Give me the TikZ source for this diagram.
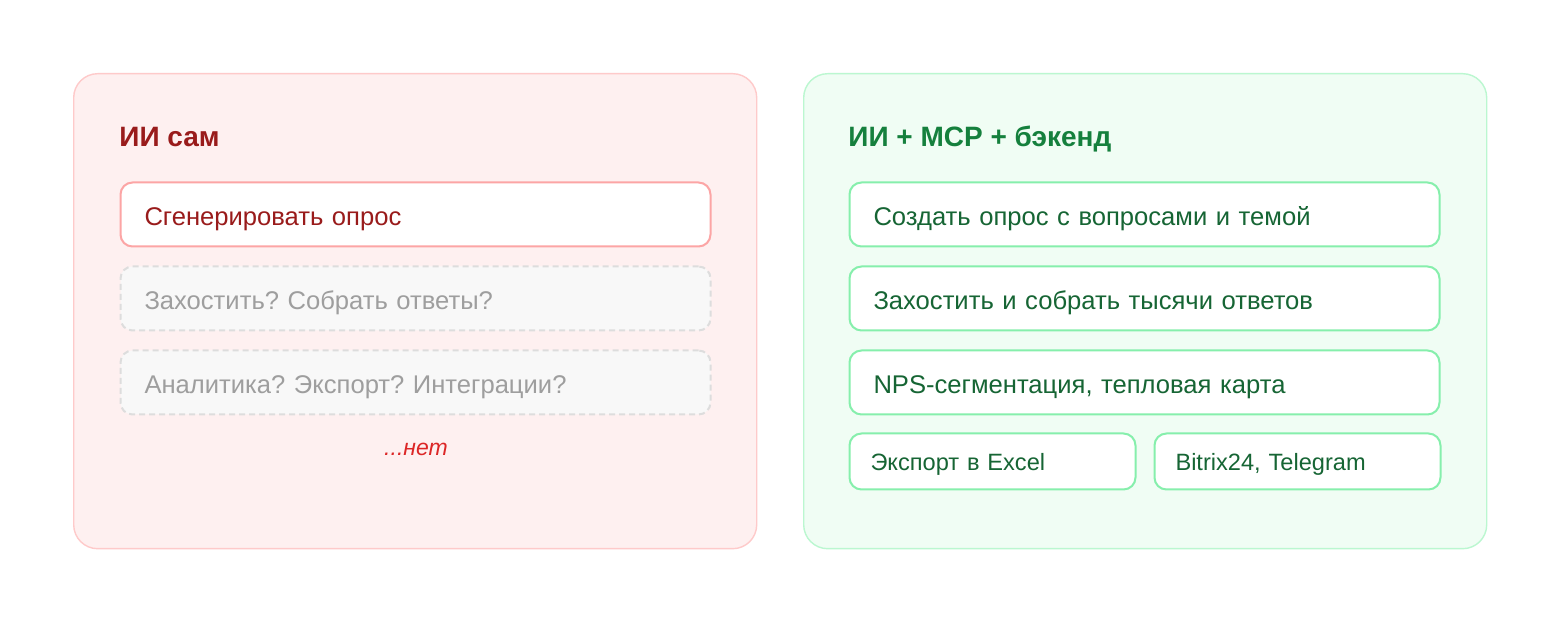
\documentclass[tikz,border=0pt]{standalone}
\usepackage{fontspec}
\setmainfont{Liberation Sans}
\usetikzlibrary{positioning}
\frenchspacing
\definecolor{redfill}{HTML}{FEF0F0}
\definecolor{redline}{HTML}{FECACA}
\definecolor{redboxline}{HTML}{FCA5A5}
\definecolor{redtext}{HTML}{991B1B}
\definecolor{nored}{HTML}{DC2626}
\definecolor{grayfill}{HTML}{F8F8F8}
\definecolor{grayline}{HTML}{DDDDDD}
\definecolor{graytext}{HTML}{9E9E9E}
\definecolor{greenfill}{HTML}{F0FDF4}
\definecolor{greenline}{HTML}{BBF7D0}
\definecolor{greenboxline}{HTML}{86EFAC}
\definecolor{greentitle}{HTML}{15803D}
\definecolor{greentext}{HTML}{166534}
\tikzset{
  panel/.style={rounded corners=12pt, line width=0.7pt, minimum width=341.5pt,
    minimum height=237.5pt, anchor=north west},
  title/.style={font=\fontsize{14}{16}\selectfont\bfseries, anchor=base west, inner sep=0pt},
  item/.style={rounded corners=6pt, line width=1pt, text width=271pt, inner xsep=12pt,
    minimum height=32pt, text height=11pt, text depth=0pt, align=left,
    font=\fontsize{12.8}{15}\selectfont},
  redbox/.style={item, draw=redboxline, fill=white, text=redtext},
  graybox/.style={item, draw=grayline, dash pattern=on 3pt off 2pt, fill=grayfill, text=graytext},
  greenbox/.style={item, draw=greenboxline, fill=white, text=greentext},
  smallbox/.style={greenbox, text width=122pt, inner xsep=10.5pt, minimum height=28pt,
    text height=9.5pt, font=\fontsize{11.8}{14}\selectfont}
}
\begin{document}
\begin{tikzpicture}[x=0.5pt,y=-0.5pt]
    \useasboundingbox[fill=white] (0,0) rectangle (1560,624);

    \node[panel, draw=redline, fill=redfill] (p1) at (73,73) {};
    \node[title, text=redtext] (t1) at (119,147) {ИИ сам};
    \node[redbox, anchor=north west] (a1) at (119.5,181.5) {Сгенерировать опрос};
    \node[graybox, below=9pt of a1] (a2) {Захостить? Собрать ответы?};
    \node[graybox, below=9pt of a2] (a3) {Аналитика? Экспорт? Интеграции?};
    \node[text=nored, font=\fontsize{11.5}{14}\selectfont\itshape, anchor=base, inner sep=0pt] (no) at (416,456) {...нет};

    \node[panel, draw=greenline, fill=greenfill] (p2) at (803,73) {};
    \node[title, text=greentitle] (t2) at (848,147) {ИИ + MCP + бэкенд};
    \node[greenbox, anchor=north west] (b1) at (848.5,181.5) {Создать опрос с вопросами и темой};
    \node[greenbox, below=9pt of b1] (b2) {Захостить и собрать тысячи ответов};
    \node[greenbox, below=9pt of b2] (b3) {NPS-сегментация, тепловая карта};
    \node[smallbox, below=8.5pt of b3.south west, anchor=north west] (b4) {Экспорт в Excel};
    \node[smallbox, right=8.5pt of b4] (b5) {Bitrix24, Telegram};
  \end{tikzpicture}
\end{document}
